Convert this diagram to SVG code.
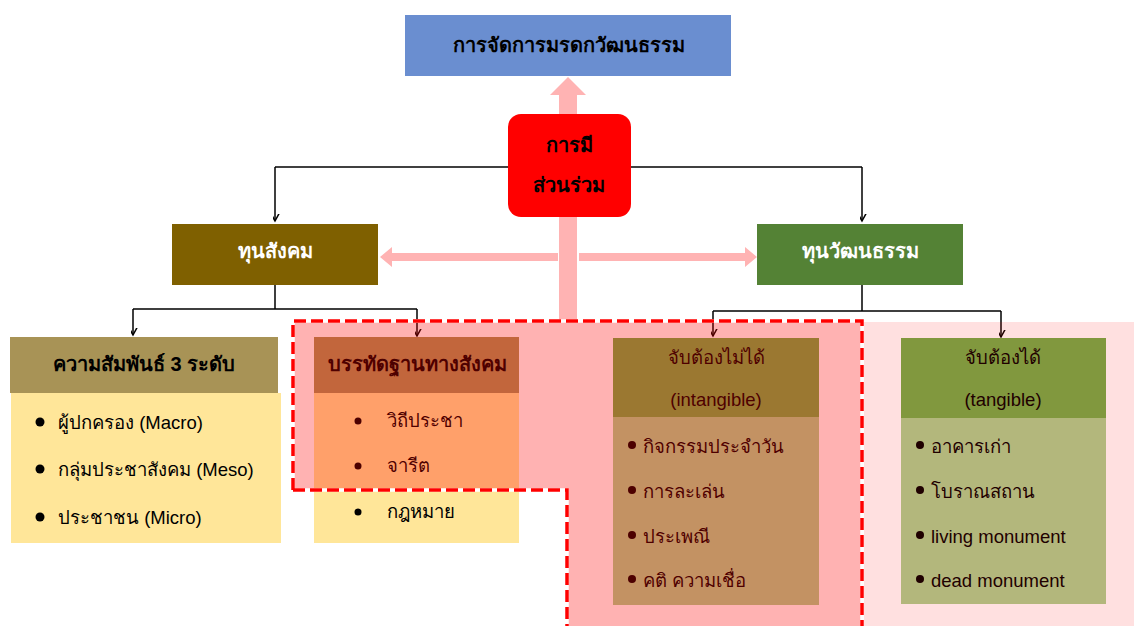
<svg xmlns="http://www.w3.org/2000/svg" width="1134" height="626" viewBox="0 0 1134 626">
<defs>
<marker id="arr" viewBox="-7 -12 14 14" markerWidth="14" markerHeight="14" refX="0" refY="0" orient="auto-start-reverse" markerUnits="userSpaceOnUse">
<path d="M-6,-11 L0,0 L6,-11" transform="rotate(-90)" fill="none" stroke="#000" stroke-width="1.5"/>
</marker>
<style>
text{font-family:"Liberation Sans","Noto Sans","DejaVu Sans",sans-serif;}
.b{font-weight:bold;font-size:20px;}
.w{fill:#fff;}
.c{text-anchor:middle;}
.i{font-size:18.5px;fill:#000;}
.ln{fill:none;stroke:#000;stroke-width:1.5;}
.pk{fill:#FFB3B3;}
</style>
</defs>
<rect width="1134" height="626" fill="#fff"/>

<g id="pink-arrows">
<path class="pk" d="M559,95 L550,95 L568,77 L586,95 L577,95 L577,320 L559,320 Z"/>
<path class="pk" d="M558,253 L392,253 L392,247 L380,257 L392,267 L392,261 L558,261 Z"/>
<path class="pk" d="M579,253 L745,253 L745,247 L757,257 L745,267 L745,261 L579,261 Z"/>
</g>

<g id="connectors">
<path class="ln" d="M275,167 H862"/>
<path class="ln" d="M275,167 V221" marker-end="url(#arr)"/>
<path class="ln" d="M862,167 V221" marker-end="url(#arr)"/>
<path class="ln" d="M275,285 V309 M133,309 H417"/>
<path class="ln" d="M133,309 V335" marker-end="url(#arr)"/>
<path class="ln" d="M417,309 V336" marker-end="url(#arr)"/>
<path class="ln" d="M862,285 V311 M713,311 H1001"/>
<path class="ln" d="M713,311 V336" marker-end="url(#arr)"/>
<path class="ln" d="M1001,311 V337" marker-end="url(#arr)"/>
</g>

<g id="title">
<rect x="405" y="15" width="326" height="61" fill="#6A8ED0"/>
<text class="b c" x="569" y="52">การจัดการมรดกวัฒนธรรม</text>
</g>

<g id="participation">
<rect x="508" y="114" width="123" height="103" rx="13" fill="#FF0000"/>
<text class="b c" x="569" y="152">การมี</text>
<text class="b c" x="569" y="192">ส่วนร่วม</text>
</g>

<g id="social-capital">
<rect x="172" y="224" width="206" height="61" fill="#7F6000"/>
<text class="b c w" x="275" y="258">ทุนสังคม</text>
</g>

<g id="cultural-capital">
<rect x="757" y="224" width="206" height="61" fill="#548235"/>
<text class="b c w" x="860" y="258">ทุนวัฒนธรรม</text>
</g>

<g id="relations">
<rect x="10" y="337" width="268" height="56" fill="#A89356"/>
<rect x="11" y="393" width="270" height="150" fill="#FFE699"/>
<text class="b c" x="144" y="371">ความสัมพันธ์ 3 ระดับ</text>
<circle cx="40" cy="422" r="4.5"/><circle cx="40" cy="469" r="4.5"/><circle cx="40" cy="517" r="4.5"/>
<text class="i" x="58" y="429">ผู้ปกครอง (Macro)</text>
<text class="i" x="58" y="476">กลุ่มประชาสังคม (Meso)</text>
<text class="i" x="58" y="524">ประชาชน (Micro)</text>
</g>

<g id="norms">
<rect x="314" y="337" width="205" height="56" fill="#A89356"/>
<rect x="314" y="393" width="205" height="150" fill="#FFE699"/>
<text class="b c" x="417" y="371">บรรทัดฐานทางสังคม</text>
<circle cx="358" cy="421" r="3.5"/><circle cx="358" cy="466" r="3.5"/><circle cx="358" cy="512" r="3.5"/>
<text class="i" x="387" y="427">วิถีประชา</text>
<text class="i" x="387" y="472">จารีต</text>
<text class="i" x="387" y="518">กฎหมาย</text>
</g>

<g id="intangible">
<rect x="613" y="338" width="206" height="79" fill="#70AD47"/>
<rect x="613" y="417" width="206" height="188" fill="#A9D18E"/>
<text class="i c" x="716" y="364">จับต้องไม่ได้</text>
<text class="i c" x="716" y="406">(intangible)</text>
<circle cx="632" cy="445" r="4"/><circle cx="632" cy="490" r="4"/><circle cx="632" cy="535" r="4"/><circle cx="632" cy="579" r="4"/>
<text class="i" x="643" y="453">กิจกรรมประจำวัน</text>
<text class="i" x="643" y="498">การละเล่น</text>
<text class="i" x="643" y="543">ประเพณี</text>
<text class="i" x="643" y="587">คติ ความเชื่อ</text>
</g>

<g id="tangible">
<rect x="901" y="338" width="205" height="80" fill="#70AD47"/>
<rect x="901" y="418" width="205" height="186" fill="#A9D18E"/>
<text class="i c" x="1003" y="364">จับต้องได้</text>
<text class="i c" x="1003" y="406">(tangible)</text>
<circle cx="920" cy="445" r="4"/><circle cx="920" cy="490" r="4"/><circle cx="920" cy="535" r="4"/><circle cx="920" cy="579" r="4"/>
<text class="i" x="931" y="453">อาคารเก่า</text>
<text class="i" x="931" y="498">โบราณสถาน</text>
<text class="i" x="931" y="543">living monument</text>
<text class="i" x="931" y="587">dead monument</text>
</g>

<g id="highlight">
<path d="M294,321 H862 V626 H567 V490 H294 Z" fill="#FF0000" fill-opacity="0.3"/>
<rect x="864" y="322" width="270" height="304" fill="#FF0000" fill-opacity="0.12"/>
<path d="M293,490 V321 H862 V626 M293,490 H567 V626" fill="none" stroke="#fff" stroke-width="3.5"/>
<path d="M293,490 V321 H862 V626 M293,490 H567 V626" fill="none" stroke="#FF0000" stroke-width="3.5" stroke-dasharray="12 5"/>
</g>
</svg>
